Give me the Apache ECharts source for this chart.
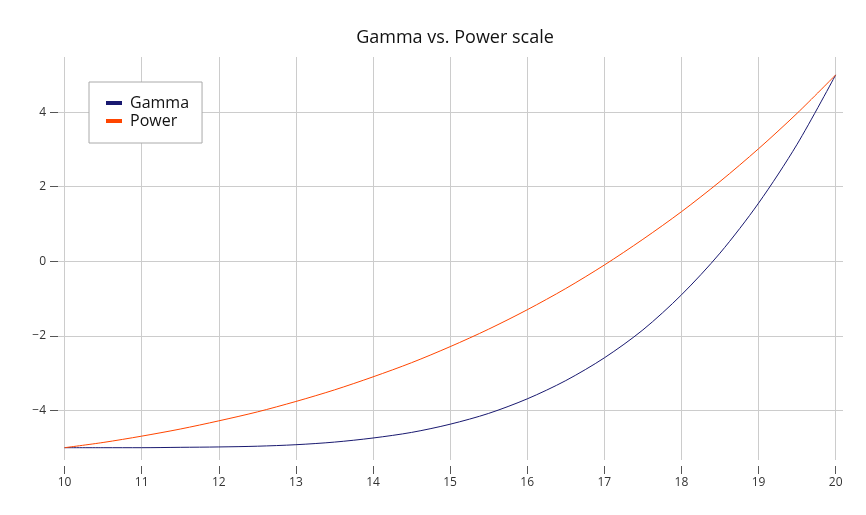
<!DOCTYPE html>
<html>
<head>
<meta charset="utf-8">
<script src="https://cdn.jsdelivr.net/npm/echarts@6/dist/echarts.min.js"></script>
<style>html,body{margin:0;padding:0;background:#fff}#c{width:866px;height:515px}</style>
</head>
<body>
<div id="c"></div>
<script>
const xValues = [10, 10.5, 11, 11.5, 12, 12.5, 13, 13.5, 14, 14.5, 15, 15.5, 16, 16.5, 17, 17.5, 18, 18.5, 19, 19.5, 20];
const gammaValues = [-5.0, -5.0, -5.0, -4.99, -4.98, -4.96, -4.92, -4.85, -4.74, -4.59, -4.37, -4.08, -3.69, -3.2, -2.59, -1.84, -0.9, 0.22, 1.56, 3.14, 5.0];
const powerValues = [-5.0, -4.86, -4.69, -4.5, -4.28, -4.04, -3.76, -3.45, -3.1, -2.72, -2.29, -1.82, -1.3, -0.73, -0.1, 0.59, 1.33, 2.14, 3.02, 3.97, 5.0];
const xTicks = [10, 11, 12, 13, 14, 15, 16, 17, 18, 19, 20];
const yTicks = [-4, -2, 0, 2, 4];

const font = '"Open Sans", "Noto Sans", sans-serif';
const chart = echarts.init(document.getElementById('c'), null, {renderer: 'canvas'});
chart.setOption({
  animation: false,
  backgroundColor: '#fff',
  title: {
    text: 'Gamma vs. Power scale',
    left: 450, top: 24, textAlign: 'center',
    textStyle: {fontFamily: font, fontSize: 18, fontWeight: 'normal', color: '#111'}
  },
  legend: {
    orient: 'vertical', left: 89, top: 82,
    padding: [13, 13, 14, 17],
    itemGap: 2,
    itemWidth: 16, itemHeight: 4,
    icon: 'rect',
    backgroundColor: '#fff',
    borderColor: '#aaa', borderWidth: 1, borderRadius: 0,
    textStyle: {fontFamily: font, fontSize: 16, color: '#111', padding: [0, 0, 0, 3]},
    data: ['Gamma', 'Power']
  },
  grid: {left: 58, right: 23, top: 57, bottom: 55, containLabel: false},
  xAxis: {
    type: 'value', min: 9.915, max: 20.095, offset: 6,
    axisLine: {show: false, onZero: false},
    axisTick: {show: true, length: 8, lineStyle: {color: '#555'}, customValues: xTicks},
    axisLabel: {customValues: xTicks, margin: 11, fontFamily: font, fontSize: 12, color: '#333'},
    splitLine: {show: true, lineStyle: {color: '#ccc', width: 1}}
  },
  yAxis: {
    type: 'value', min: -5.33, max: 5.48,
    axisLine: {show: false, onZero: false},
    axisTick: {show: true, length: 8, lineStyle: {color: '#555'}, customValues: yTicks},
    axisLabel: {customValues: yTicks, margin: 12, fontFamily: font, fontSize: 12, color: '#333',
      formatter: v => String(v).replace('-', '\u2212')},
    splitLine: {show: true, lineStyle: {color: '#ccc', width: 1}}
  },
  series: [
    {name: 'Gamma', type: 'line', data: xValues.map((x, i) => [x, gammaValues[i]]),
     smooth: 0.3, showSymbol: false, color: '#191970', lineStyle: {width: 1}},
    {name: 'Power', type: 'line', data: xValues.map((x, i) => [x, powerValues[i]]),
     smooth: 0.3, showSymbol: false, color: '#ff4500', lineStyle: {width: 1}}
  ]
});
</script>
</body>
</html>
